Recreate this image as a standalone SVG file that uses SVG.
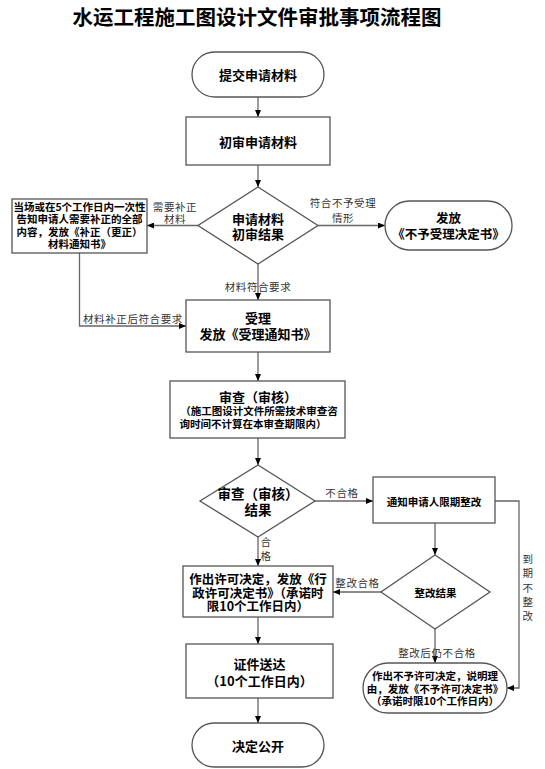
<svg xmlns="http://www.w3.org/2000/svg" width="545" height="769" viewBox="0 0 545 769">
<defs>
<marker id="ah" markerWidth="7" markerHeight="6" refX="7" refY="3" orient="auto" markerUnits="userSpaceOnUse">
<path d="M0,0 L7,3 L0,6 Z" fill="#000"/>
</marker>
<style>
.n{fill:#fff;stroke:#555;stroke-width:1.3}
.c{fill:none;stroke:#666;stroke-width:1.3}
.a{marker-end:url(#ah)}
text{font-family:"Noto Sans CJK SC","Liberation Sans",sans-serif;fill:#000;text-anchor:middle;dominant-baseline:central}
.t{font-size:13px;font-weight:700}
.s{font-size:10.5px;font-weight:700}
.l{font-size:10.5px;font-weight:400;fill:#333;letter-spacing:0.6px}
.title{font-size:20.5px;font-weight:700}
</style>
</defs>
<rect width="545" height="769" fill="#fff"/>
<text class="title" x="257" y="16">水运工程施工图设计文件审批事项流程图</text>

<g id="connectors">
<line class="c a" x1="258" y1="97" x2="258" y2="117"/>
<line class="c a" x1="258" y1="165" x2="258" y2="187"/>
<line class="c a" x1="198" y1="225.5" x2="147" y2="225.5"/>
<line class="c a" x1="318" y1="225.5" x2="385" y2="225.5"/>
<line class="c a" x1="258" y1="264" x2="258" y2="300"/>
<polyline class="c a" points="79.5,253 79.5,326 186,326"/>
<line class="c a" x1="258" y1="352" x2="258" y2="381"/>
<line class="c a" x1="258" y1="438" x2="258" y2="465"/>
<line class="c a" x1="315" y1="501" x2="373" y2="501"/>
<polyline class="c a" points="495,501 519,501 519,688 507,688"/>
<line class="c a" x1="435" y1="523" x2="435" y2="555"/>
<line class="c a" x1="381" y1="592" x2="333" y2="592"/>
<line class="c a" x1="258" y1="537" x2="258" y2="566"/>
<line class="c a" x1="258" y1="617" x2="258" y2="644"/>
<line class="c a" x1="258" y1="698" x2="258" y2="723"/>
<line class="c a" x1="435" y1="629" x2="435" y2="663"/>
<text class="l" x="175" y="206">需要补正</text>
<text class="l" x="175" y="218.5">材料</text>
<text class="l" x="343" y="202">符合不予受理</text>
<text class="l" x="343" y="217">情形</text>
<text class="l" x="258" y="286">材料符合要求</text>
<text class="l" x="83" y="318" style="text-anchor:start">材料补正后符合要求</text>
<text class="l" x="342" y="492">不合格</text>
<text class="l" x="266" y="541">合</text>
<text class="l" x="266" y="555">格</text>
<text class="l" x="357.5" y="582">整改合格</text>
<text class="l" x="437" y="652">整改后仍不合格</text>
<text class="l" x="528" y="558">到</text>
<text class="l" x="528" y="572.5">期</text>
<text class="l" x="528" y="587">不</text>
<text class="l" x="528" y="601">整</text>
<text class="l" x="528" y="615">改</text>
</g>

<g id="start">
<rect class="n" x="192" y="52" width="132" height="45" rx="22.5"/>
<text class="t" x="258" y="74.5">提交申请材料</text>
</g>
<g id="prelim">
<rect class="n" x="186" y="117" width="144" height="48"/>
<text class="t" x="258" y="141">初审申请材料</text>
</g>
<g id="decision1">
<polygon class="n" points="258,187 318,225.5 258,264 198,225.5"/>
<text class="t" x="258" y="218">申请材料</text>
<text class="t" x="258" y="233">初审结果</text>
</g>
<g id="supplement">
<rect class="n" x="12" y="199" width="135" height="54"/>
<text class="s" x="79.5" y="206">当场或在5个工作日内一次性</text>
<text class="s" x="79.5" y="218.5">告知申请人需要补正的全部</text>
<text class="s" x="79.5" y="231">内容，发放《补正（更正）</text>
<text class="s" x="79.5" y="243.5">材料通知书》</text>
</g>
<g id="reject">
<rect class="n" x="385" y="201" width="127" height="49" rx="24.5"/>
<text class="t" x="448.5" y="217" style="font-size:12.5px">发放</text>
<text class="t" x="448.5" y="233" style="font-size:12.5px">《不予受理决定书》</text>
</g>
<g id="accept">
<rect class="n" x="186" y="300" width="144" height="52"/>
<text class="t" x="258" y="317">受理</text>
<text class="t" x="258" y="333">发放《受理通知书》</text>
</g>
<g id="review">
<rect class="n" x="170" y="381" width="175" height="57"/>
<text class="t" x="258" y="396">审查（审核）</text>
<text class="s" x="259" y="410">（施工图设计文件所需技术审查咨</text>
<text class="s" x="253" y="423">询时间不计算在本审查期限内）</text>
</g>
<g id="decision2">
<polygon class="n" points="258,465 315,501 258,537 200,501"/>
<text class="t" x="258" y="493" style="font-size:13.5px">审查（审核）</text>
<text class="t" x="258" y="509" style="font-size:13.5px">结果</text>
</g>
<g id="rectify">
<rect class="n" x="373" y="477" width="122" height="46"/>
<text class="s" x="434" y="501">通知申请人限期整改</text>
</g>
<g id="decision3">
<polygon class="n" points="435,555 490,592 435,629 381,592"/>
<text class="s" x="435.5" y="592">整改结果</text>
</g>
<g id="permit">
<rect class="n" x="183" y="566" width="150" height="51"/>
<text class="t" x="258" y="578.5" style="font-size:12.5px">作出许可决定，发放《行</text>
<text class="t" x="258" y="592" style="font-size:12.5px">政许可决定书》（承诺时</text>
<text class="t" x="258" y="605.5" style="font-size:12.5px">限10个工作日内）</text>
</g>
<g id="deny">
<rect class="n" x="363" y="663" width="144" height="50" rx="25"/>
<text class="s" x="435" y="675.5">作出不予许可决定，说明理</text>
<text class="s" x="435" y="688">由，发放《不予许可决定书》</text>
<text class="s" x="435" y="700.5">（承诺时限10个工作日内）</text>
</g>
<g id="deliver">
<rect class="n" x="186" y="644" width="147" height="54"/>
<text class="t" x="259.5" y="663">证件送达</text>
<text class="t" x="259.5" y="680">（10个工作日内）</text>
</g>
<g id="publish">
<rect class="n" x="192" y="723" width="132" height="44" rx="22"/>
<text class="t" x="258" y="745">决定公开</text>
</g>
</svg>
